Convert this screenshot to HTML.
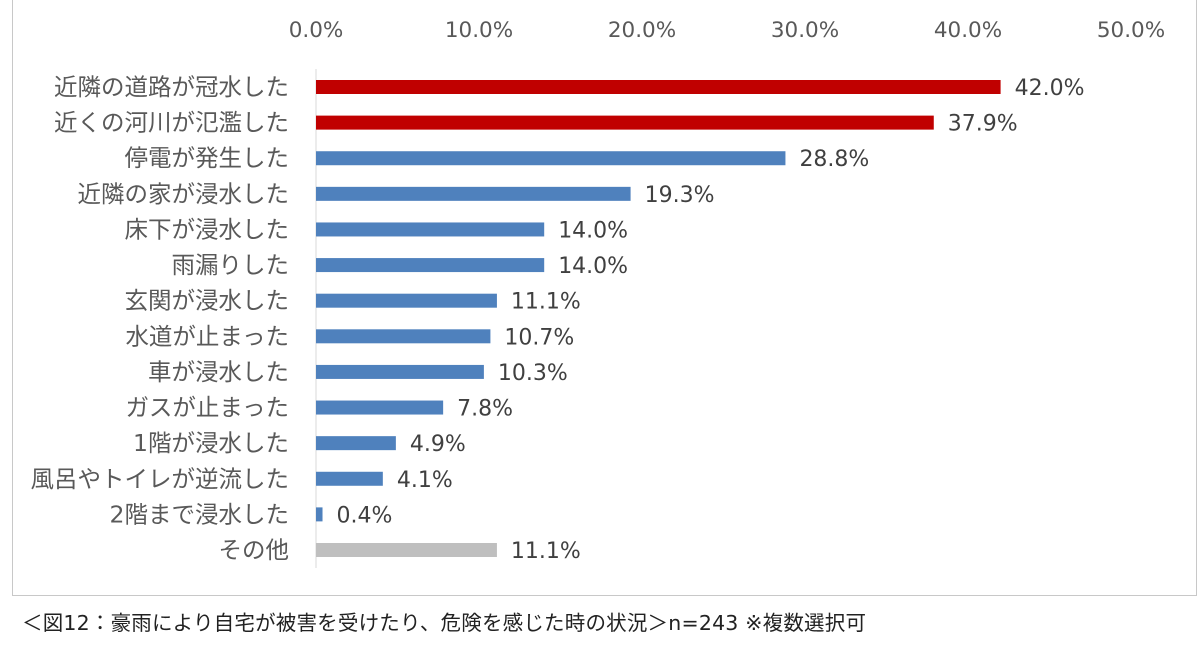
<!DOCTYPE html>
<html><head><meta charset="utf-8"><style>
body{margin:0;background:#fff;width:1200px;height:652px;overflow:hidden;font-family:"DejaVu Sans","Noto Sans CJK JP",sans-serif;color:#404040}
#frame{position:absolute;left:12px;top:-1px;width:1185px;height:597px;border:1px solid #c8c8c8;box-sizing:border-box}
#cap{position:absolute;left:22px;top:606px;font-size:20.5px;color:#222;white-space:nowrap;letter-spacing:0.2px}
</style></head><body>
<div id="frame"></div>
<svg id="chart" width="1200" height="600" style="position:absolute;left:0;top:0"></svg>
<div id="cap">＜図12：豪雨により自宅が被害を受けたり、危険を感じた時の状況＞n=243 ※複数選択可</div>
<script>
const categories=["近隣の道路が冠水した","近くの河川が氾濫した","停電が発生した","近隣の家が浸水した","床下が浸水した","雨漏りした","玄関が浸水した","水道が止まった","車が浸水した","ガスが止まった","1階が浸水した","風呂やトイレが逆流した","2階まで浸水した","その他"];
const values=[42.0,37.9,28.8,19.3,14.0,14.0,11.1,10.7,10.3,7.8,4.9,4.1,0.4,11.1];
const tickValues=[0,10,20,30,40,50];
const seriesColor=["red","red","blue","blue","blue","blue","blue","blue","blue","blue","blue","blue","blue","gray"];
const colorMap={red:"#c00000",blue:"#4f81bd",gray:"#bfbfbf"};
const NS="http://www.w3.org/2000/svg";
const svg=document.getElementById('chart');
const x0=316,x50=1131;
const xs=v=>x0+(x50-x0)*v/50;
const y0=87,step=(550-87)/13;
const ys=i=>y0+i*step;
function mk(t,a){const e=document.createElementNS(NS,t);for(const k in a)e.setAttribute(k,a[k]);svg.appendChild(e);return e;}
tickValues.forEach(t=>{
 const e=mk('text',{x:xs(t),y:37,'text-anchor':'middle','font-size':21.5,fill:'#595959'});
 
 
 e.textContent=t.toFixed(1)+'%';
});
const ax=mk('line',{x1:x0,x2:x0,y1:69,y2:568,stroke:'#d9d9d9','stroke-width':1});


categories.forEach((c,i)=>{
 const y=ys(i);
 const l=mk('text',{x:289,y:y+8,'text-anchor':'end','font-size':23.5,fill:'#595959'});
 
 
 l.textContent=c;
 const b=mk('rect',{x:x0,y:y-7,width:xs(values[i])-x0,height:14,fill:colorMap[seriesColor[i]]});
 
 
 const v=mk('text',{x:xs(values[i])+14,y:y+8,'font-size':22,fill:'#404040'});
 
 
 v.textContent=values[i].toFixed(1)+'%';
});
</script>
</body></html>
